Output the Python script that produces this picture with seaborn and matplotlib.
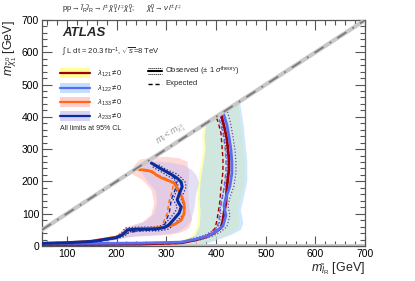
import numpy as np
import pandas as pd
import matplotlib
matplotlib.use("Agg")
import matplotlib.pyplot as plt
from matplotlib.ticker import MultipleLocator
import seaborn as sns

# ---------------- data ----------------
# observed limits
l121_obs_x = [50, 150, 250, 330, 360, 380, 396, 410, 414, 416, 420, 422, 426, 426, 424, 422, 418, 414, 410]
l121_obs_y = [5, 5, 6, 10, 19, 28, 40, 56, 80, 102, 133, 183, 236, 270, 300, 330, 360, 385, 410]
l122_obs_x = [50, 150, 250, 330, 362, 385, 400, 414, 420, 416, 420, 428, 432, 432, 430, 426, 422, 418, 414]
l122_obs_y = [8, 8, 9, 12, 22, 32, 45, 62, 95, 125, 150, 185, 225, 260, 300, 340, 375, 395, 414]
l133_obs_x = [50, 100, 150, 200, 215, 228, 250, 270, 290, 305, 318, 330, 336, 336, 332, 326, 316, 304, 292, 280, 272, 262, 252, 246]
l133_obs_y = [8, 10, 15, 28, 38, 52, 54, 55, 57, 62, 68, 80, 100, 130, 150, 168, 195, 203, 210, 220, 230, 234, 236, 236]
l233_obs_x = [50, 100, 150, 200, 212, 222, 240, 260, 280, 296, 305, 315, 326, 330, 325, 322, 327, 332, 330, 322, 312, 298, 286, 278, 270]
l233_obs_y = [8, 10, 14, 26, 35, 50, 52, 52, 53, 57, 65, 82, 102, 121, 133, 143, 165, 183, 198, 210, 220, 232, 242, 250, 257]

# expected limits
l121_exp_x = [50, 150, 250, 330, 355, 372, 388, 398, 402, 405, 408, 410, 414, 414, 412, 410, 404, 400]
l121_exp_y = [4, 4, 5, 8, 17, 26, 38, 55, 80, 110, 140, 180, 230, 270, 310, 350, 385, 400]
l122_exp_x = [50, 150, 250, 330, 358, 376, 392, 402, 406, 408, 412, 416, 420, 420, 418, 414, 408, 404]
l122_exp_y = [6, 6, 7, 10, 19, 28, 40, 56, 80, 110, 140, 180, 230, 270, 310, 350, 385, 404]
l133_exp_x = [150, 200, 228, 250, 275, 290, 296, 302, 306, 312, 314, 306, 290, 270, 255]
l133_exp_y = [12, 26, 46, 50, 52, 58, 80, 102, 140, 170, 190, 205, 215, 228, 234]
l233_exp_x = [150, 200, 225, 250, 280, 295, 300, 306, 310, 318, 320, 316, 300, 285, 272]
l233_exp_y = [10, 24, 42, 48, 50, 58, 80, 102, 143, 175, 195, 212, 230, 242, 252]

# observed +-1 sigma theory (dotted)
l122_up_x = [330, 368, 392, 408, 422, 428, 424, 428, 436, 440, 440, 438, 434, 430, 426, 422]
l122_up_y = [9, 19, 30, 42, 60, 95, 125, 150, 185, 225, 260, 300, 340, 375, 400, 422]
l122_dn_x = [330, 356, 378, 394, 406, 410, 408, 412, 418, 422, 422, 420, 416, 412, 408]
l122_dn_y = [14, 24, 34, 48, 64, 95, 125, 150, 185, 225, 260, 300, 340, 375, 408]
l233_up_x = [200, 216, 226, 250, 285, 302, 312, 322, 334, 338, 333, 330, 335, 340, 338, 330, 320, 304, 292, 282]
l233_up_y = [22, 30, 44, 46, 47, 51, 60, 78, 98, 121, 133, 143, 165, 183, 198, 212, 224, 234, 244, 254]
l233_dn_x = [200, 210, 218, 240, 275, 290, 298, 308, 318, 322, 318, 314, 319, 324, 322, 314, 304, 292, 280, 272]
l233_dn_y = [30, 40, 56, 58, 59, 63, 70, 86, 106, 121, 133, 143, 165, 183, 198, 208, 216, 228, 238, 246]

# expected +-1 sigma bands
l121_band_x = [50, 300, 330, 352, 362, 364, 362, 364, 370, 374, 372, 376, 444, 450, 454, 458, 458, 450, 444, 448, 442, 425, 400, 370, 50]
l121_band_y = [12, 12, 16, 32, 60, 100, 150, 200, 260, 300, 340, 376, 444, 380, 320, 260, 200, 150, 112, 70, 50, 35, 20, 5, 3]
l122_band_x = [50, 305, 335, 358, 367, 369, 367, 369, 375, 379, 377, 381, 448, 455, 459, 463, 463, 456, 450, 455, 450, 432, 406, 376, 50]
l122_band_y = [12, 12, 16, 32, 60, 100, 150, 200, 260, 300, 340, 381, 448, 380, 320, 260, 200, 150, 112, 70, 50, 35, 20, 5, 3]
l133_band_x = [150, 186, 200, 220, 252, 270, 276, 270, 252, 232, 236, 248, 270, 300, 325, 342, 346, 344, 346, 352, 346, 330, 310, 280, 250, 220, 200, 170, 150]
l133_band_y = [6, 19, 34, 59, 74, 96, 133, 174, 205, 222, 250, 268, 273, 276, 272, 262, 226, 180, 121, 80, 55, 42, 35, 32, 30, 27, 20, 10, 6]
l233_band_x = [150, 190, 210, 230, 258, 276, 282, 278, 262, 250, 256, 280, 310, 335, 352, 362, 366, 360, 356, 350, 342, 322, 300, 270, 240, 210, 180, 150]
l233_band_y = [8, 20, 36, 58, 76, 100, 135, 172, 200, 230, 255, 262, 258, 250, 235, 215, 195, 160, 112, 80, 62, 42, 36, 33, 30, 22, 12, 8]

diag_x = [50, 700]
diag_y = [50, 700]

legend_labels = [r"$\lambda_{121} \neq 0$", r"$\lambda_{122} \neq 0$",
                 r"$\lambda_{133} \neq 0$", r"$\lambda_{233} \neq 0$"]
line_colors = ["#a00000", "#5b6cf2", "#ff6a10", "#0b2d9c"]
band_colors = ["#ffff70", "#a8d4ff", "#ffb8b8", "#c8c0ee"]

# ---------------- style ----------------
sns.set_theme(style="ticks")
plt.rcParams["font.family"] = ["Liberation Sans", "DejaVu Sans"]
plt.rcParams["mathtext.fontset"] = "custom"
plt.rcParams["mathtext.rm"] = "Liberation Sans"
plt.rcParams["mathtext.it"] = "Liberation Sans:italic"
plt.rcParams["mathtext.bf"] = "Liberation Sans:bold"

fig = plt.figure(figsize=(4.15, 2.81), dpi=100)
ax = fig.add_axes([0.101, 0.1246, 0.779, 0.8043])

# bands
for bx, by, c, a in [(l121_band_x, l121_band_y, band_colors[0], 0.5),
                     (l122_band_x, l122_band_y, band_colors[1], 0.55),
                     (l133_band_x, l133_band_y, band_colors[2], 0.55),
                     (l233_band_x, l233_band_y, band_colors[3], 0.5)]:
    ax.fill(bx, by, color=c, alpha=a, lw=0, zorder=1)

ax.axhspan(0, 7, color="#c8c8c8", zorder=1.5, lw=0)

def line(x, y, color, lw, ls="-", z=3):
    df = pd.DataFrame({"x": x, "y": y})
    sns.lineplot(data=df, x="x", y="y", sort=False, estimator=None, color=color,
                 lw=lw, ls=ls, ax=ax, zorder=z)

# expected (dashed)
for ex, ey, c in [(l121_exp_x, l121_exp_y, line_colors[0]), (l122_exp_x, l122_exp_y, line_colors[1]),
                  (l133_exp_x, l133_exp_y, line_colors[2]), (l233_exp_x, l233_exp_y, line_colors[3])]:
    line(ex, ey, c, 1.0, (0, (3, 2)), 3)

# theory dotted
for tx, ty, c in [(l122_up_x, l122_up_y, "#7a40c0"), (l122_dn_x, l122_dn_y, "#7a40c0"),
                  (l233_up_x, l233_up_y, line_colors[3]), (l233_dn_x, l233_dn_y, line_colors[3])]:
    line(tx, ty, c, 0.9, (0, (1, 1.5)), 3)

# observed
line(l121_obs_x, l121_obs_y, line_colors[0], 2.0, "-", 4)
line(l122_obs_x, l122_obs_y, line_colors[1], 2.0, "-", 4)
line(l133_obs_x, l133_obs_y, line_colors[2], 2.0, "-", 4)
line(l233_obs_x, l233_obs_y, line_colors[3], 2.2, "-", 5)

# diagonal
line(diag_x, diag_y, "#c8c8c8", 3.0, "-", 6)
line(diag_x, diag_y, "#7a7a7a", 1.3, (0, (6, 4, 1, 4)), 7)

ax.set_xlim(50, 700)
ax.set_ylim(0, 700)
ax.xaxis.set_major_locator(MultipleLocator(100))
ax.xaxis.set_minor_locator(MultipleLocator(20))
ax.yaxis.set_major_locator(MultipleLocator(100))
ax.yaxis.set_minor_locator(MultipleLocator(20))
ax.tick_params(which="both", direction="in", top=True, right=True, colors="#555555",
               labelcolor="black", labelsize=7.5, pad=2)
ax.tick_params(which="major", length=7, width=0.8)
ax.tick_params(which="minor", length=3.5, width=0.8)
for s in ax.spines.values():
    s.set_color("#555555")
    s.set_linewidth(0.9)

ax.set_xlabel(r"$m_{\tilde{l}_{\rm R}}$ [GeV]", fontsize=9, loc="right", labelpad=1)
ax.set_ylabel(r"$m_{\tilde{\chi}^{0}_{1}}$ [GeV]", fontsize=9, loc="top", labelpad=2)

# texts
fig.text(62 / 415, 1 - 9 / 281,
         r"pp$\rightarrow\tilde{l}_{\rm R}\tilde{l}_{\rm R}\rightarrow l^{\pm}\,\tilde{\chi}^{0}_{1}\,l^{\mp}\tilde{\chi}^{0}_{1}$;      $\tilde{\chi}^{0}_{1}\rightarrow\nu\, l^{\pm}\, l^{\mp}$",
         fontsize=5.5, va="center", ha="left")
ax.text(0.062, 0.942, "ATLAS", transform=ax.transAxes, fontsize=9.5, fontweight="bold",
        fontstyle="italic", va="center", ha="left")
ax.text(0.062, 0.858, r"$\int$ L dt = 20.3 fb$^{-1}$, $\sqrt{s}$=8 TeV", transform=ax.transAxes,
        fontsize=5.5, va="center", ha="left")

leg_y = [0.765, 0.699, 0.636, 0.575]
for yy, lab, lc, bc in zip(leg_y, legend_labels, line_colors, band_colors):
    ax.fill_between([0.056, 0.149], yy - 0.022, yy + 0.022, transform=ax.transAxes,
                    color=bc, alpha=0.7, lw=0, zorder=8)
    ax.plot([0.056, 0.149], [yy, yy], transform=ax.transAxes, color=lc, lw=1.6, zorder=9)
    ax.text(0.17, yy, lab, transform=ax.transAxes, fontsize=5.5, va="center", ha="left")
ax.text(0.056, 0.522, "All limits at 95% CL", transform=ax.transAxes, fontsize=5,
        va="center", ha="left")

# observed / expected legend
oy = 0.774
ax.plot([0.328, 0.371], [oy, oy], transform=ax.transAxes, color="black", lw=1.5, zorder=9)
ax.plot([0.328, 0.371], [oy + 0.013, oy + 0.013], transform=ax.transAxes, color="black",
        lw=0.7, ls=(0, (1, 1)), zorder=9)
ax.plot([0.328, 0.371], [oy - 0.013, oy - 0.013], transform=ax.transAxes, color="black",
        lw=0.7, ls=(0, (1, 1)), zorder=9)
ax.text(0.381, oy, r"Observed ($\pm$ 1 $\sigma^{\rm theory}$)", transform=ax.transAxes,
        fontsize=5.5, va="center", ha="left")
ey_ = 0.717
ax.plot([0.328, 0.371], [ey_, ey_], transform=ax.transAxes, color="black", lw=1.0,
        ls=(0, (3, 2)), zorder=9)
ax.text(0.381, ey_, "Expected", transform=ax.transAxes, fontsize=5.5, va="center", ha="left")

ax.text(310, 345, r"$m_{\tilde{l}} < m_{\tilde{\chi}^{0}_{1}}$", fontsize=6.5, color="#999999",
        rotation=33, rotation_mode="anchor", ha="center", va="center", zorder=8)

fig.savefig("out.png", dpi=100)
